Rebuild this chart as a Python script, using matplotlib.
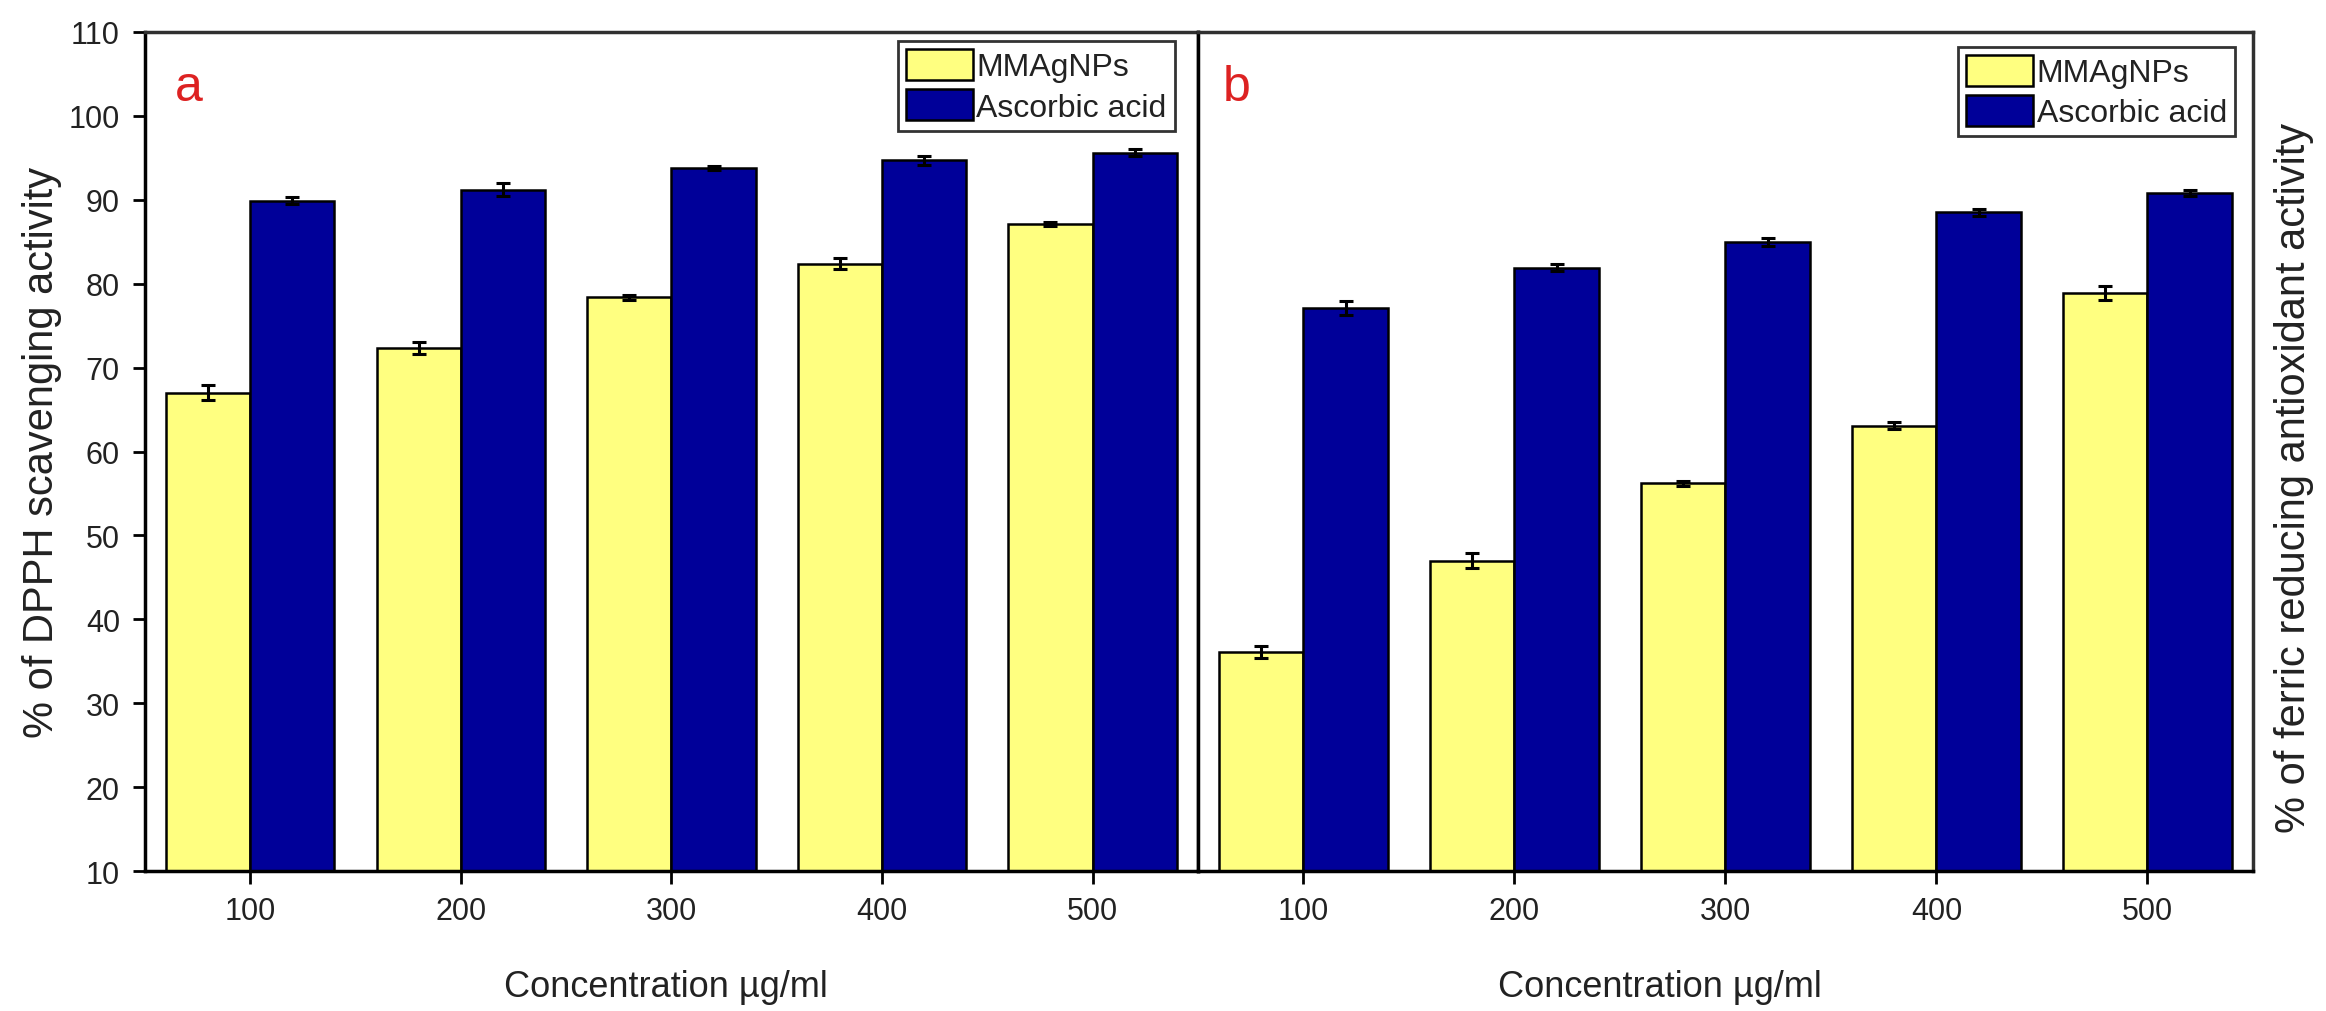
import numpy as np
import matplotlib
matplotlib.use('Agg')
from matplotlib import pyplot as plt

plt.rcParams['font.family'] = ['Liberation Sans', 'DejaVu Sans']

conc = ['100', '200', '300', '400', '500']

# a: DPPH scavenging
dpph_np = [67.0, 72.3, 78.4, 82.4, 87.1]
dpph_np_err = [0.9, 0.7, 0.3, 0.7, 0.2]
dpph_aa = [89.9, 91.2, 93.8, 94.7, 95.6]
dpph_aa_err = [0.4, 0.8, 0.2, 0.5, 0.4]

# b: ferric reducing
frap_np = [36.1, 47.0, 56.2, 63.1, 78.9]
frap_np_err = [0.7, 0.9, 0.3, 0.4, 0.8]
frap_aa = [77.1, 81.9, 85.0, 88.5, 90.8]
frap_aa_err = [0.8, 0.4, 0.5, 0.4, 0.4]

yellow = '#FFFF80'
navy = '#000099'

fig = plt.figure(figsize=(23.26, 10.12), dpi=100)
ax1 = fig.add_axes([0.0623, 0.1383, 0.4527, 0.8291])
ax2 = fig.add_axes([0.5150, 0.1383, 0.4536, 0.8291])

x = np.arange(len(conc))
w = 0.4
ekw = dict(ecolor='black', elinewidth=2.2, capsize=5, capthick=2.2)

def draw(ax, v1, e1, v2, e2):
    ax.bar(x - w/2, v1, w, yerr=e1, color=yellow, edgecolor='black', linewidth=1.8,
           error_kw=ekw, label='MMAgNPs')
    ax.bar(x + w/2, v2, w, yerr=e2, color=navy, edgecolor='black', linewidth=1.8,
           error_kw=ekw, label='Ascorbic acid')
    ax.set_xlim(-0.5, 4.5)
    ax.set_ylim(10, 110)
    ax.set_xticks(x)
    ax.set_xticklabels(conc)
    ax.tick_params(axis='both', direction='out', length=9, width=2, labelsize=22,
                   pad=9, labelcolor='#222222')
    for s in ax.spines.values():
        s.set_linewidth(2.5)
        s.set_color('#303030')
    ax.spines['left'].set_color('black')
    ax.spines['bottom'].set_color('black')
    leg = ax.legend(fontsize=23, loc='upper right', frameon=True, fancybox=False,
                    edgecolor='black', handlelength=2.1, handleheight=1.1,
                    handletextpad=0.12, borderpad=0.25, labelspacing=0.22,
                    borderaxespad=0)
    leg.get_frame().set_linewidth(2)
    for t in leg.get_texts():
        t.set_color('#222222')
    return leg

leg1 = draw(ax1, dpph_np, dpph_np_err, dpph_aa, dpph_aa_err)
leg1.set_bbox_to_anchor((0.978, 0.989), transform=ax1.transAxes)
ax1.set_yticks(np.arange(10, 111, 10))
ax1.set_ylabel('% of DPPH scavenging activity', fontsize=30, color='#222222')
ax1.yaxis.set_label_coords(-0.079, 0.5)
ax1.set_xlabel('Concentration µg/ml', fontsize=26, color='#222222')
ax1.xaxis.set_label_coords(0.495, -0.117)
ax1.text(0.028, 0.935, 'a', transform=ax1.transAxes, fontsize=36, color='#DD2222',
         ha='left', va='center')

leg2 = draw(ax2, frap_np, frap_np_err, frap_aa, frap_aa_err)
leg2.set_bbox_to_anchor((0.983, 0.982), transform=ax2.transAxes)
ax2.tick_params(axis='y', left=False, labelleft=False)
ax2.yaxis.set_label_position('right')
ax2.set_ylabel('% of ferric reducing antioxidant activity', fontsize=30, color='#222222')
ax2.yaxis.set_label_coords(1.02, 0.47)
ax2.set_xlabel('Concentration µg/ml', fontsize=26, color='#222222')
ax2.xaxis.set_label_coords(0.438, -0.117)
ax2.text(0.024, 0.935, 'b', transform=ax2.transAxes, fontsize=36, color='#DD2222',
         ha='left', va='center')

fig.savefig('out.png', dpi=100)
